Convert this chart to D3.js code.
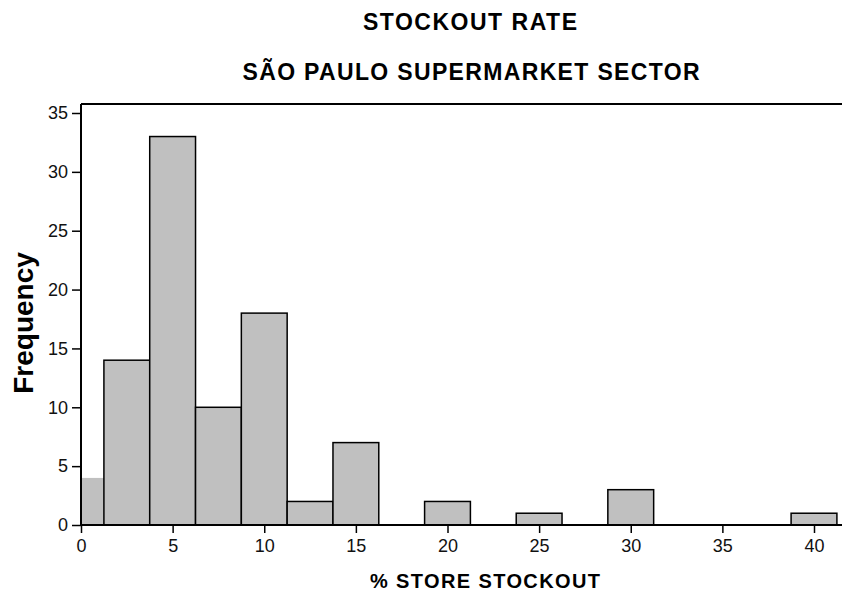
<!DOCTYPE html>
<html>
<head>
<meta charset="utf-8">
<script src="https://cdn.jsdelivr.net/npm/d3@7"></script>
<style>
  html, body { margin: 0; padding: 0; background: #fff; }
  svg { display: block; }
</style>
</head>
<body>
<div id="chart"></div>
<script>
// ---- data ----
const titleLines = ["STOCKOUT RATE", "SÃO PAULO SUPERMARKET SECTOR"];
const xLabel = "% STORE STOCKOUT";
const yLabel = "Frequency";
const binCenters = [0, 2.5, 5, 7.5, 10, 12.5, 15, 17.5, 20, 22.5, 25, 27.5, 30, 32.5, 35, 37.5, 40];
const frequencies = [4, 14, 33, 10, 18, 2, 7, 0, 2, 0, 1, 0, 3, 0, 0, 0, 1];
const binWidth = 2.5;
const xTicks = [0, 5, 10, 15, 20, 25, 30, 35, 40];
const yTicks = [0, 5, 10, 15, 20, 25, 30, 35];

// ---- layout ----
const W = 842, H = 593;
const plotLeft = 81, plotTop = 104, plotBottom = 525, plotRight = 842;

const svg = d3.select("#chart").append("svg")
  .attr("width", W).attr("height", H);

const x = d3.scaleLinear().domain([0, 40]).range([plotLeft, 814]);
const y = d3.scaleLinear().domain([0, 35]).range([plotBottom, 113]);

const bins = binCenters.map((c, i) => ({ x0: c - binWidth / 2, x1: c + binWidth / 2, n: frequencies[i] }))
  .filter(d => d.n > 0);

// bars
svg.append("g").selectAll("rect").data(bins).join("rect")
  .attr("x", d => x(Math.max(0, d.x0)))
  .attr("y", d => y(d.n))
  .attr("width", d => x(d.x1) - x(Math.max(0, d.x0)))
  .attr("height", d => y(0) - y(d.n))
  .attr("fill", "#c0c0c0")
  .attr("stroke", d => d.x0 < 0 ? "none" : "#000")
  .attr("stroke-width", 1.5);

// axes ticks
const tickFont = "'Liberation Sans', Arial, sans-serif";
const yAxis = svg.append("g").attr("transform", `translate(${plotLeft},0)`)
  .call(d3.axisLeft(y).tickValues(yTicks).tickSize(9).tickPadding(4).tickSizeOuter(0));
const xAxis = svg.append("g").attr("transform", `translate(0,${plotBottom})`)
  .call(d3.axisBottom(x).tickValues(xTicks).tickSize(8).tickPadding(6).tickSizeOuter(0));
[yAxis, xAxis].forEach(g => {
  g.select(".domain").remove();
  g.selectAll(".tick line").attr("stroke", "#000").attr("stroke-width", 1.5);
  g.selectAll(".tick text").attr("fill", "#111")
    .style("font-family", tickFont).style("font-size", "18px");
});

// frame lines
const frame = svg.append("g").attr("stroke", "#000").attr("stroke-width", 2).attr("fill", "none");
frame.append("line").attr("x1", plotLeft).attr("x2", plotLeft).attr("y1", plotTop).attr("y2", plotBottom + 1);
frame.append("line").attr("x1", plotLeft).attr("x2", plotRight).attr("y1", plotBottom).attr("y2", plotBottom);
frame.append("line").attr("x1", plotLeft).attr("x2", plotRight).attr("y1", plotTop).attr("y2", plotTop);

// titles
const boldFont = "'Liberation Sans', Arial, sans-serif";
svg.append("text").attr("x", 470).attr("y", 30).attr("text-anchor", "middle")
  .attr("textLength", 214).attr("lengthAdjust", "spacing")
  .style("font-family", boldFont).style("font-weight", "bold").style("font-size", "23px")
  .text(titleLines[0]);
svg.append("text").attr("x", 471).attr("y", 80).attr("text-anchor", "middle")
  .attr("textLength", 457).attr("lengthAdjust", "spacing")
  .style("font-family", boldFont).style("font-weight", "bold").style("font-size", "23px")
  .text(titleLines[1]);

// axis titles
svg.append("text").attr("x", 485).attr("y", 588).attr("text-anchor", "middle")
  .attr("textLength", 230).attr("lengthAdjust", "spacing")
  .style("font-family", boldFont).style("font-weight", "bold").style("font-size", "20px")
  .text(xLabel);
svg.append("text").attr("transform", "translate(33,323) rotate(-90)").attr("text-anchor", "middle")
  .style("font-family", boldFont).style("font-weight", "bold").style("font-size", "28px")
  .text(yLabel);
</script>
</body>
</html>
